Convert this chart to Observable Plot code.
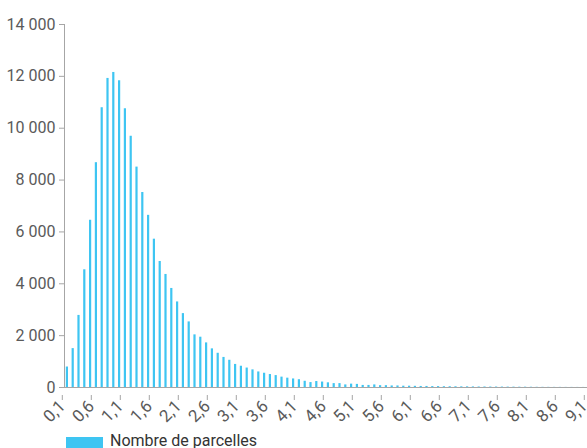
<!DOCTYPE html>
<html><head><meta charset="utf-8">
<script src="https://cdn.jsdelivr.net/npm/d3@7"></script>
<script src="https://cdn.jsdelivr.net/npm/@observablehq/plot@0.6"></script>
<style>
html,body{margin:0;padding:0;overflow:hidden;background:#fff;width:587px;height:448px}
#wrap{position:relative;width:587px;height:448px;overflow:hidden}
#chart{position:absolute;left:0;top:0;width:610px}
#chart svg{max-width:none !important;}
#legend{position:absolute;left:66px;top:433px;display:flex;align-items:flex-start;font-family:Roboto,sans-serif;font-size:16px;line-height:16px;color:#333;white-space:nowrap}
#legend .sw{width:37px;height:12px;margin-top:4px;margin-right:7px}
</style></head><body>
<div id="wrap"><div id="chart"></div><div id="legend"></div></div>
<script>
// Upper bound of each bin (ha)
const binUpper = [0.1,0.2,0.3,0.4,0.5,0.6,0.7,0.8,0.9,1.0,
  1.1,1.2,1.3,1.4,1.5,1.6,1.7,1.8,1.9,2.0,
  2.1,2.2,2.3,2.4,2.5,2.6,2.7,2.8,2.9,3.0,
  3.1,3.2,3.3,3.4,3.5,3.6,3.7,3.8,3.9,4.0,
  4.1,4.2,4.3,4.4,4.5,4.6,4.7,4.8,4.9,5.0,
  5.1,5.2,5.3,5.4,5.5,5.6,5.7,5.8,5.9,6.0,
  6.1,6.2,6.3,6.4,6.5,6.6,6.7,6.8,6.9,7.0,
  7.1,7.2,7.3,7.4,7.5,7.6,7.7,7.8,7.9,8.0,
  8.1,8.2,8.3,8.4,8.5,8.6,8.7,8.8,8.9,9.0,9.1];
// Nombre de parcelles
const values = [790,1500,2780,4540,6450,8670,10790,11920,12150,11830,
  10750,9690,8500,7520,6640,5720,4860,4360,3820,3300,
  2850,2530,2030,1940,1720,1490,1320,1160,1050,890,
  820,750,680,600,550,500,460,400,360,330,
  300,240,190,230,210,180,150,150,100,130,
  120,80,80,100,70,70,60,60,50,50,
  45,40,40,35,35,30,30,28,25,25,
  22,20,20,18,18,16,15,14,12,12,
  10,8,7,6,5,5,4,4,3,3,2];
const xTickLabels = ["0,1","0,6","1,1","1,6","2,1","2,6","3,1","3,6","4,1","4,6",
  "5,1","5,6","6,1","6,6","7,1","7,6","8,1","8,6","9,1"];
const yTicks = [0,2000,4000,6000,8000,10000,12000,14000];
const seriesName = "Nombre de parcelles";
const barColor = "#3ec5f2";
const axisColor = "#a6a6a6";

const data = binUpper.map((u, i) => ({lo: u - 0.1, hi: u, v: values[i]}));
const xTickVals = xTickLabels.map(s => parseFloat(s.replace(",", ".")));

const W = 610, xMax = 9.4, ml = 64;
const chart = Plot.plot({
  width: W, height: 425,
  marginLeft: ml, marginRight: W - ml - 58 * xMax, marginTop: 24, marginBottom: 38,
  x: {domain: [0, xMax], axis: null},
  y: {domain: [0, 14000], axis: null},
  style: {fontFamily: "Roboto, sans-serif", fontSize: "16px", color: "#5a5a5a", background: "#fff", maxWidth: "none"},
  marks: [
    Plot.rectY(data, {x1: "lo", x2: "hi", y: "v", fill: barColor, insetLeft: 1.8, insetRight: 1.8}),
    Plot.ruleY([0], {stroke: axisColor}),
    Plot.ruleX([0], {stroke: axisColor}),
    Plot.axisY({ticks: yTicks, label: null, tickSize: 5, tickPadding: 4, stroke: axisColor, fill: "#5a5a5a",
      tickFormat: d => d3.format(",")(d).replace(/,/g, " ")}),
    Plot.axisX({ticks: xTickVals, label: null, tickSize: 5, tickPadding: 3, tickRotate: -45, stroke: axisColor, fill: "#5a5a5a",
      dx: -8, dy: 8, fontSize: 17,
      tickFormat: (d, i) => xTickLabels[i]})
  ]
});
document.getElementById("chart").appendChild(chart);

const lg = document.getElementById("legend");
const sw = document.createElement("span");
sw.className = "sw"; sw.style.background = barColor;
const tx = document.createElement("span");
tx.textContent = seriesName;
lg.appendChild(sw); lg.appendChild(tx);
</script>
</body></html>
